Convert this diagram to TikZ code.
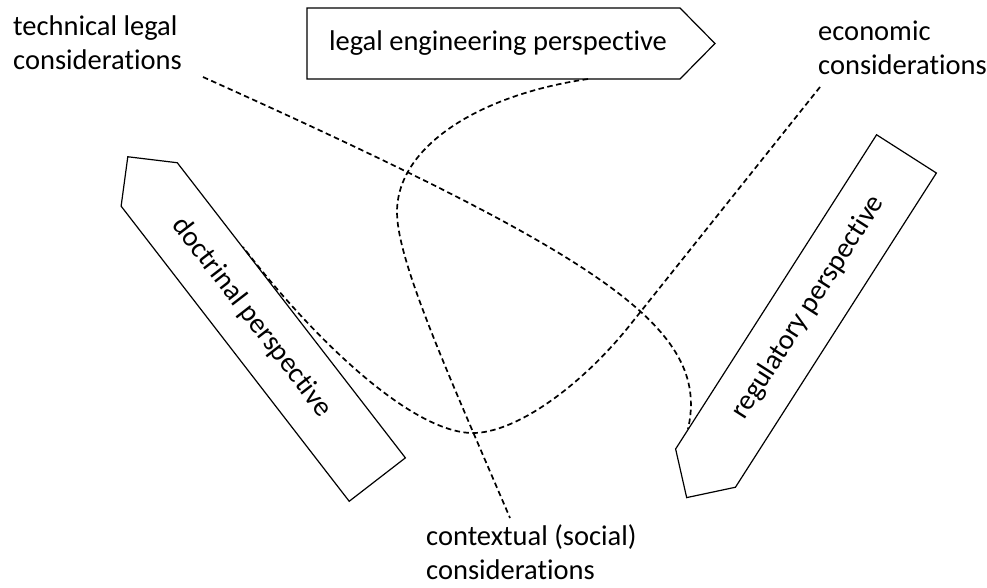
\documentclass[tikz,border=0pt]{standalone}
\usepackage{fontspec}
\setmainfont{Carlito}[Ligatures=CommonOff]
\begin{document}
\begin{tikzpicture}[x=1pt,y=-1pt,
  persp/.style={draw=black, line width=1.2pt, line join=miter},
  lbl/.style={font=\fontsize{28.5}{34}\selectfont, align=left, inner sep=0pt, anchor=base west},
  ptext/.style={font=\fontsize{28.5}{34}\selectfont, inner sep=0pt},
  link/.style={draw=black, line width=1.7pt, dash pattern=on 5.5pt off 3.5pt}]
\useasboundingbox (0,0) rectangle (987,587);

% perspective arrows (outlines)
\begin{scope}[shift={(493.5,43.5)}]
  \draw[persp] (-186.5,-35.5) -- (186.5,-35.5) -- (221.5,0) -- (186.5,35.5) -- (-186.5,35.5) -- cycle;
\end{scope}
\begin{scope}[shift={(263.25,332)}, rotate=127.7]
  \draw[persp] (-186.5,-35.5) -- (186.5,-35.5) -- (221.5,0) -- (186.5,35.5) -- (-186.5,35.5) -- cycle;
\end{scope}
\begin{scope}[shift={(806,311)}, rotate=237.4]
  \draw[persp] (-186.5,-35.5) -- (186.5,-35.5) -- (221.5,0) -- (186.5,35.5) -- (-186.5,35.5) -- cycle;
\end{scope}

% perspective texts
\node[ptext] (legal) at (498,43.5) {legal engineering perspective};
\node[ptext, rotate=-52.3] (doctrinal) at (251.9,317.4) {doctrinal perspective};
\node[ptext, rotate=57.4] (regulatory) at (808.2,307.6) {regulatory perspective};

% consideration labels (anchor = baseline of last line)
\node[lbl] (tech) at (13,69) {technical legal\\considerations};
\node[lbl] (econ) at (818,74) {economic\\considerations};
\node[lbl] (ctx) at (426,579) {contextual (social)\\considerations};

% connector end points
\coordinate (techEnd) at (203,77);
\coordinate (regEnd) at (688,429);
\coordinate (econEnd) at (820,87);
\coordinate (econBend) at (630,325);
\coordinate (low) at (473,433);
\coordinate (docEnd) at (243,247);
\coordinate (legEnd) at (588,79);
\coordinate (leftmost) at (397,212);
\coordinate (ctxEnd) at (510,518);

% dashed connectors
\draw[link] (techEnd) .. controls (603,257) and (711,328) .. (regEnd);
\draw[link] (econEnd) -- (econBend) .. controls (580,387.5) and (515,433) .. (low)
  .. controls (413,433) and (316,342) .. (docEnd);
\draw[link] (legEnd) .. controls (478,95) and (397,147) .. (leftmost)
  .. controls (397,262) and (451,380) .. (ctxEnd);
\end{tikzpicture}
\end{document}
